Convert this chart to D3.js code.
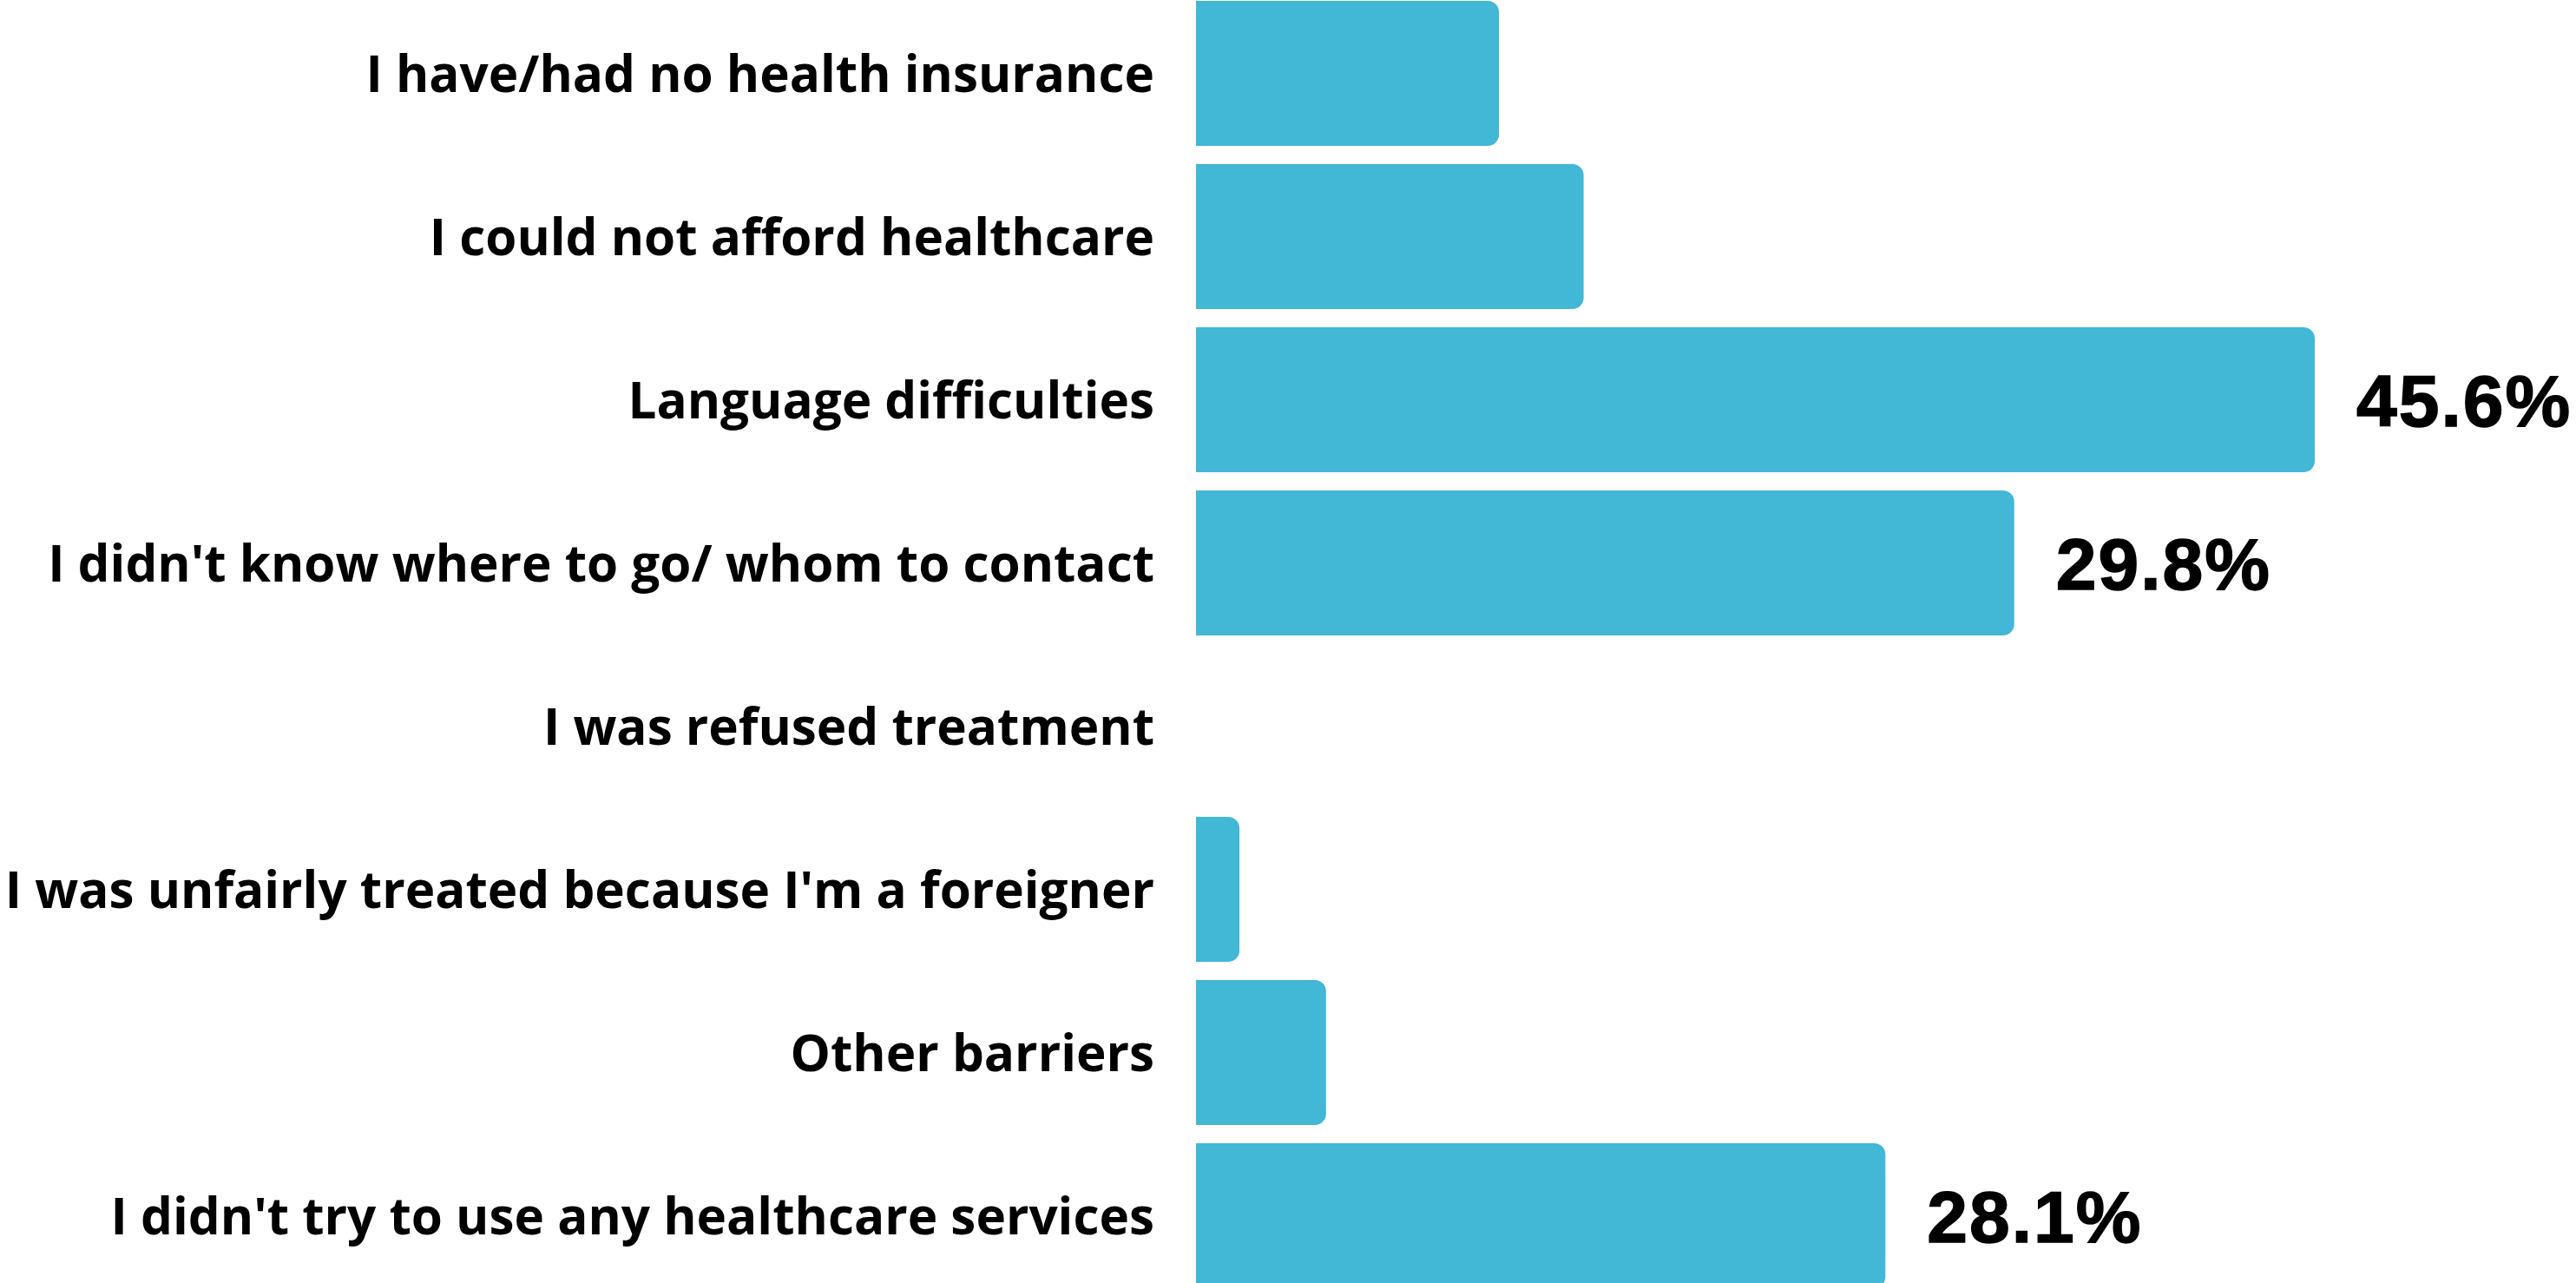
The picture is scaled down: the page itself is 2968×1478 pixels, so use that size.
<!DOCTYPE html>
<html>
<head>
<meta charset="utf-8">
<script src="https://cdn.jsdelivr.net/npm/d3@7"></script>
<style>
  html, body { margin: 0; padding: 0; background: #ffffff; overflow: hidden; }
  svg { display: block; }
</style>
</head>
<body>
<svg id="chart" width="2968" height="1478"></svg>
<script>
// ---- data ----
const categories = [
  "I have/had no health insurance",
  "I could not afford healthcare",
  "Language difficulties",
  "I didn't know where to go/ whom to contact",
  "I was refused treatment",
  "I was unfairly treated because I'm a foreigner",
  "Other barriers",
  "I didn't try to use any healthcare services"
];
const values = [12.35, 15.8, 45.6, 33.35, 0, 1.77, 5.3, 28.1];
const valueLabels = [null, null, 45.6, 29.8, null, null, null, 28.1];

// ---- layout ----
const W = 2968, H = 1478;
const barLeft = 1378;
const svg = d3.select("#chart");

const x = d3.scaleLinear().domain([0, 45.6]).range([barLeft, 2667]);
const step = 188;
const y = d3.scaleBand()
  .domain(categories)
  .range([-9.5, -9.5 + step * categories.length])
  .paddingInner(21 / step)
  .paddingOuter(10.5 / step);

function barPath(x0, x1, y0, h, r) {
  const w = x1 - x0;
  if (w <= 0) return "";
  const rr = Math.min(r, w, h / 2);
  return `M${x0},${y0}H${x1 - rr}A${rr},${rr} 0 0 1 ${x1},${y0 + rr}` +
         `V${y0 + h - rr}A${rr},${rr} 0 0 1 ${x1 - rr},${y0 + h}H${x0}Z`;
}

svg.append("g").selectAll("path")
  .data(categories.map((c, i) => ({c, v: values[i]})))
  .join("path")
  .attr("d", d => barPath(x(0), x(d.v), y(d.c), y.bandwidth(), 13))
  .attr("fill", "#42b7d6");

// category labels
svg.append("g").selectAll("text")
  .data(categories)
  .join("text")
  .attr("x", 1330)
  .attr("y", d => y(d) + y.bandwidth() / 2 + 21)
  .attr("text-anchor", "end")
  .attr("font-family", "'Open Sans', sans-serif")
  .attr("font-weight", 700)
  .attr("font-size", 58.4)
  .attr("fill", "#000")
  .text(d => d);

// value labels
svg.append("g").selectAll("text")
  .data(categories.map((c, i) => ({c, v: values[i], l: valueLabels[i]})).filter(d => d.l !== null))
  .join("text")
  .attr("x", d => x(d.v) + 48)
  .attr("y", d => y(d.c) + y.bandwidth() / 2 + 30)
  .attr("font-family", "'Liberation Sans', Arial, sans-serif")
  .attr("font-weight", 700)
  .attr("font-size", 84)
  .attr("letter-spacing", 2)
  .attr("fill", "#000")
  .attr("stroke", "#000")
  .attr("stroke-width", 1.5)
  .text(d => d3.format(".1f")(d.l) + "%");
</script>
</body>
</html>
